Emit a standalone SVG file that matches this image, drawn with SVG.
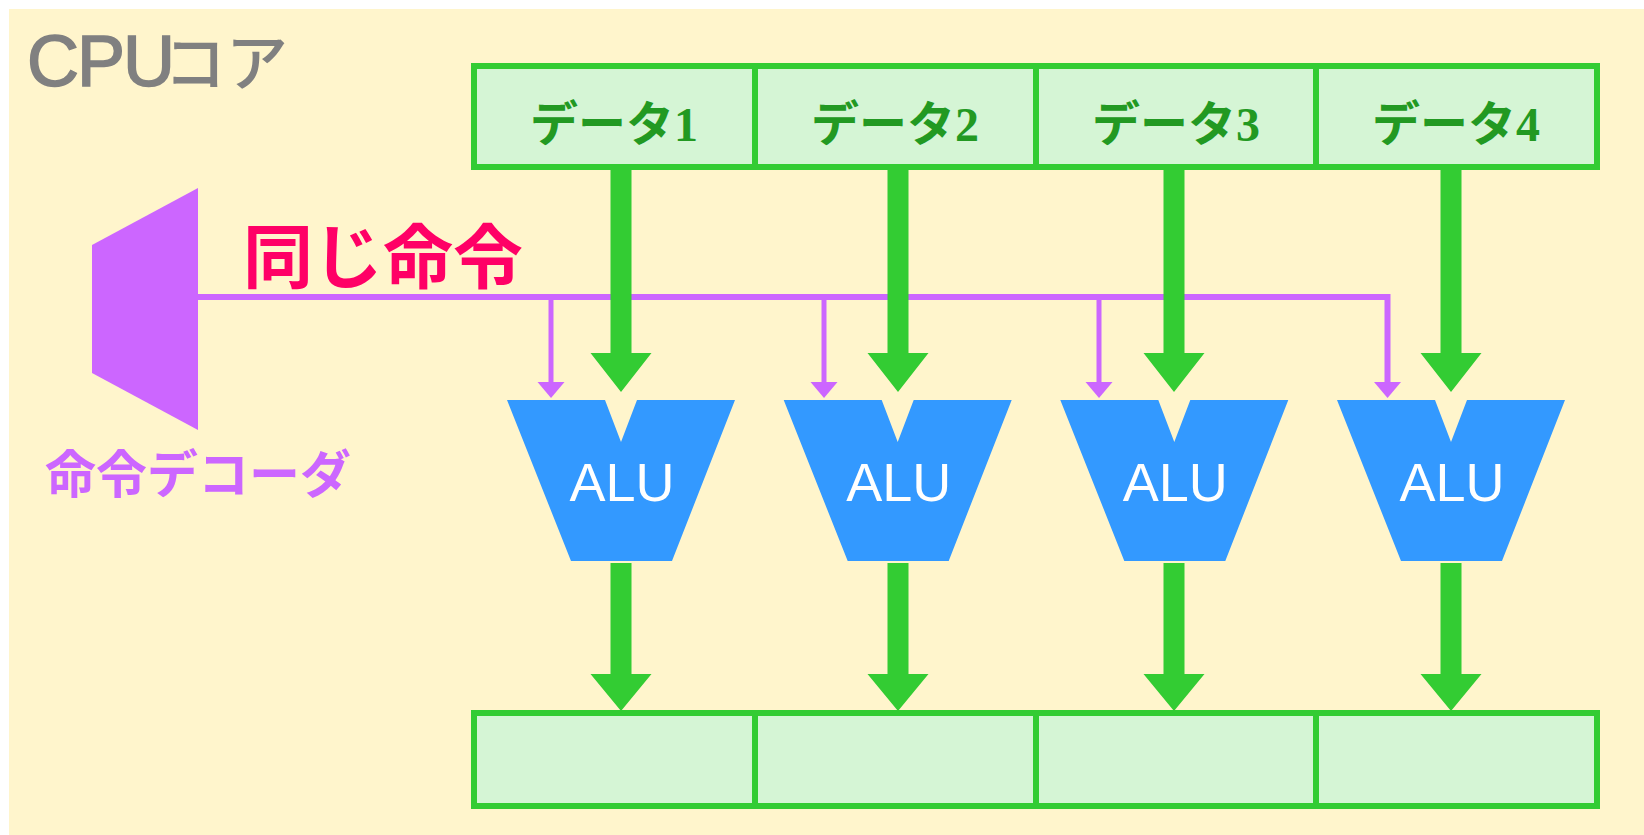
<svg xmlns="http://www.w3.org/2000/svg" width="1644" height="835" viewBox="0 0 1644 835">
<style>
.cell{fill:#D5F5D5;stroke:#33CC33;stroke-width:6}
.dtxt{font-family:"Liberation Serif","Noto Sans CJK JP",serif;font-weight:bold;font-size:48px;fill:#229922;text-anchor:middle}
.alu{fill:#3399FF}
.alut{font-family:"Liberation Sans",Arial,sans-serif;font-size:54px;fill:#FFFFFF;text-anchor:middle}
.garrow{fill:#33CC33}
.pline{fill:none;stroke:#CC66FF;stroke-width:6}
.pdrop{fill:none;stroke:#CC66FF;stroke-width:5}
.phead{fill:#CC66FF}
</style>
<rect x="9" y="9" width="1635" height="826" fill="#FFF5CC"/>
<g id="cpu-label">
<text x="27" y="86" fill="#808080"><tspan font-family="Liberation Sans,Arial,sans-serif" font-size="72" letter-spacing="-2" stroke="#808080" stroke-width="1.6">CPU</tspan><tspan x="164" font-family="Noto Sans CJK JP,sans-serif" font-weight="500" font-size="62">コア</tspan></text>
</g>
<g id="decoder">
<polygon points="92,245 198,188 198,430 92,373" fill="#CC66FF"/>
<text x="45" y="493" font-family="Noto Sans CJK JP,sans-serif" font-weight="bold" font-size="51" fill="#CC66FF">命令デコーダ</text>
</g>
<g id="same-instruction-label">
<text x="243" y="283" font-family="Noto Sans CJK JP,sans-serif" font-weight="bold" font-size="70" fill="#FF0066">同じ命令</text>
</g>
<g id="data1"><rect class="cell" x="474" y="66" width="281" height="101"/><text class="dtxt" x="614" y="141">データ1</text></g>
<g id="data2"><rect class="cell" x="755" y="66" width="281" height="101"/><text class="dtxt" x="895" y="141">データ2</text></g>
<g id="data3"><rect class="cell" x="1036" y="66" width="280" height="101"/><text class="dtxt" x="1176" y="141">データ3</text></g>
<g id="data4"><rect class="cell" x="1316" y="66" width="281" height="101"/><text class="dtxt" x="1456" y="141">データ4</text></g>
<g id="result1"><rect class="cell" x="474" y="713" width="281" height="93"/></g>
<g id="result2"><rect class="cell" x="755" y="713" width="281" height="93"/></g>
<g id="result3"><rect class="cell" x="1036" y="713" width="280" height="93"/></g>
<g id="result4"><rect class="cell" x="1316" y="713" width="281" height="93"/></g>
<g id="alu1"><polygon class="alu" points="507,400 605,400 621,442 637,400 735,400 672,561 571,561"/><text class="alut" x="622" y="501">ALU</text></g>
<g id="alu2"><polygon class="alu" transform="translate(276.7,0)" points="507,400 605,400 621,442 637,400 735,400 672,561 571,561"/><text class="alut" x="898.7" y="501">ALU</text></g>
<g id="alu3"><polygon class="alu" transform="translate(553.3,0)" points="507,400 605,400 621,442 637,400 735,400 672,561 571,561"/><text class="alut" x="1175.3" y="501">ALU</text></g>
<g id="alu4"><polygon class="alu" transform="translate(830,0)" points="507,400 605,400 621,442 637,400 735,400 672,561 571,561"/><text class="alut" x="1452" y="501">ALU</text></g>
<g id="connectors">
<polyline class="pline" points="197,297 1387.5,297 1387.5,383"/>
<line class="pdrop" x1="551" y1="299" x2="551" y2="383"/>
<line class="pdrop" x1="824" y1="299" x2="824" y2="383"/>
<line class="pdrop" x1="1099" y1="299" x2="1099" y2="383"/>
<polygon class="phead" points="537.5,382 564.5,382 551,398"/>
<polygon class="phead" points="810.5,382 837.5,382 824,398"/>
<polygon class="phead" points="1085.5,382 1112.5,382 1099,398"/>
<polygon class="phead" points="1374,382 1401,382 1387.5,398"/>
<polygon class="garrow" points="610.5,170 631.5,170 631.5,353 651.5,353 621,392 590.5,353 610.5,353"/>
<polygon class="garrow" transform="translate(277,0)" points="610.5,170 631.5,170 631.5,353 651.5,353 621,392 590.5,353 610.5,353"/>
<polygon class="garrow" transform="translate(553,0)" points="610.5,170 631.5,170 631.5,353 651.5,353 621,392 590.5,353 610.5,353"/>
<polygon class="garrow" transform="translate(830,0)" points="610.5,170 631.5,170 631.5,353 651.5,353 621,392 590.5,353 610.5,353"/>
<polygon class="garrow" points="610.5,563 631.5,563 631.5,674 651.5,674 621,711 590.5,674 610.5,674"/>
<polygon class="garrow" transform="translate(277,0)" points="610.5,563 631.5,563 631.5,674 651.5,674 621,711 590.5,674 610.5,674"/>
<polygon class="garrow" transform="translate(553,0)" points="610.5,563 631.5,563 631.5,674 651.5,674 621,711 590.5,674 610.5,674"/>
<polygon class="garrow" transform="translate(830,0)" points="610.5,563 631.5,563 631.5,674 651.5,674 621,711 590.5,674 610.5,674"/>
</g>
</svg>
